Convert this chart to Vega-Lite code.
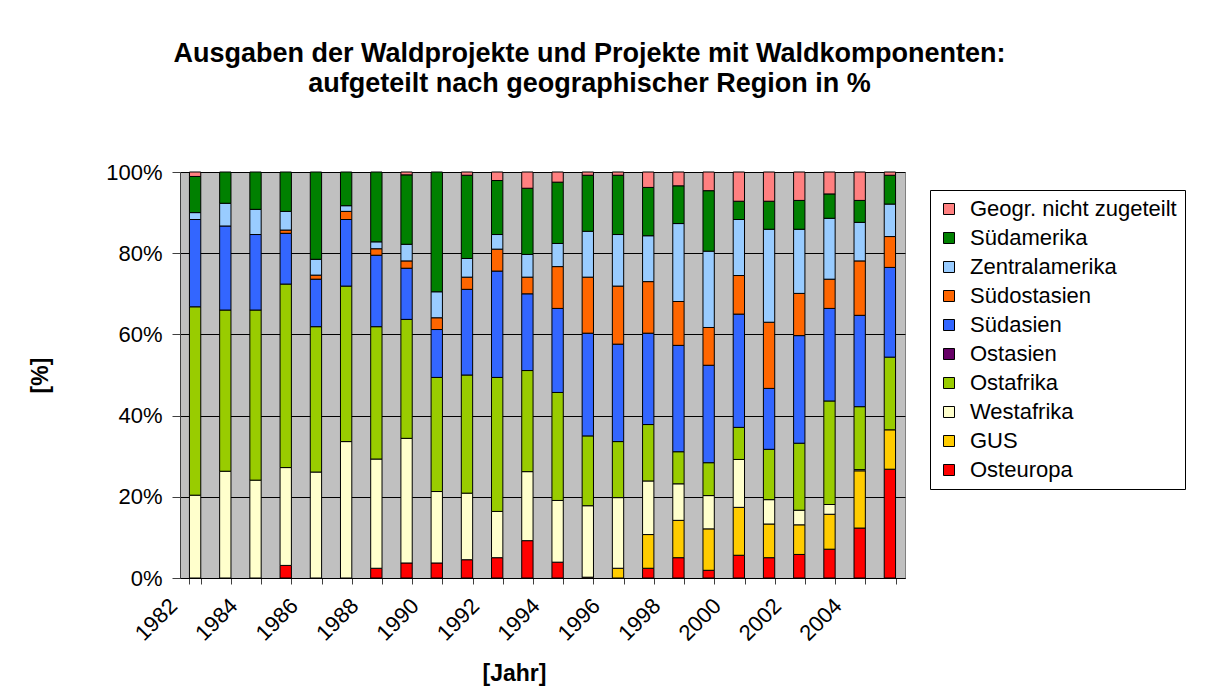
{
  "$schema": "https://vega.github.io/schema/vega-lite/v6.json",
  "width": 725,
  "height": 406,
  "autosize": {"type": "none"},
  "padding": {"left": 180, "top": 172, "right": 313, "bottom": 115},
  "background": "white",
  "title": {
    "text": ["Ausgaben der Waldprojekte und Projekte mit Waldkomponenten:", "aufgeteilt nach geographischer Region in %"],
    "font": "Liberation Sans", "fontSize": 27, "fontWeight": "bold", "color": "black",
    "anchor": "middle", "frame": "group", "dx": 47, "offset": 74, "dy": 38, "lineHeight": 30, "baseline": "bottom"
  },
  "config": {
    "view": {"fill": "#C0C0C0", "stroke": "#808080", "strokeWidth": 1},
    "font": "Liberation Sans"
  },
  "data": {"values": [
    {"year": 1982, "region": "Westafrika", "pct": 20.4},
    {"year": 1982, "region": "Ostafrika", "pct": 46.4},
    {"year": 1982, "region": "Südasien", "pct": 21.5},
    {"year": 1982, "region": "Zentralamerika", "pct": 1.7},
    {"year": 1982, "region": "Südamerika", "pct": 8.9},
    {"year": 1982, "region": "Geogr. nicht zugeteilt", "pct": 1.1},

    {"year": 1983, "region": "Westafrika", "pct": 26.3},
    {"year": 1983, "region": "Ostafrika", "pct": 39.7},
    {"year": 1983, "region": "Südasien", "pct": 20.7},
    {"year": 1983, "region": "Zentralamerika", "pct": 5.6},
    {"year": 1983, "region": "Südamerika", "pct": 7.7},

    {"year": 1984, "region": "Westafrika", "pct": 24.1},
    {"year": 1984, "region": "Ostafrika", "pct": 41.9},
    {"year": 1984, "region": "Südasien", "pct": 18.6},
    {"year": 1984, "region": "Zentralamerika", "pct": 6.2},
    {"year": 1984, "region": "Südamerika", "pct": 9.2},

    {"year": 1985, "region": "Osteuropa", "pct": 3.1},
    {"year": 1985, "region": "Westafrika", "pct": 24.1},
    {"year": 1985, "region": "Ostafrika", "pct": 45.2},
    {"year": 1985, "region": "Südasien", "pct": 12.5},
    {"year": 1985, "region": "Südostasien", "pct": 0.8},
    {"year": 1985, "region": "Zentralamerika", "pct": 4.6},
    {"year": 1985, "region": "Südamerika", "pct": 9.7},

    {"year": 1986, "region": "Westafrika", "pct": 26.1},
    {"year": 1986, "region": "Ostafrika", "pct": 35.8},
    {"year": 1986, "region": "Südasien", "pct": 11.7},
    {"year": 1986, "region": "Südostasien", "pct": 1.0},
    {"year": 1986, "region": "Zentralamerika", "pct": 3.9},
    {"year": 1986, "region": "Südamerika", "pct": 21.5},

    {"year": 1987, "region": "Westafrika", "pct": 33.6},
    {"year": 1987, "region": "Ostafrika", "pct": 38.3},
    {"year": 1987, "region": "Südasien", "pct": 16.4},
    {"year": 1987, "region": "Südostasien", "pct": 2.0},
    {"year": 1987, "region": "Zentralamerika", "pct": 1.4},
    {"year": 1987, "region": "Südamerika", "pct": 8.3},

    {"year": 1988, "region": "Osteuropa", "pct": 2.4},
    {"year": 1988, "region": "Westafrika", "pct": 26.9},
    {"year": 1988, "region": "Ostafrika", "pct": 32.6},
    {"year": 1988, "region": "Südasien", "pct": 17.6},
    {"year": 1988, "region": "Südostasien", "pct": 1.6},
    {"year": 1988, "region": "Zentralamerika", "pct": 1.7},
    {"year": 1988, "region": "Südamerika", "pct": 17.2},

    {"year": 1989, "region": "Osteuropa", "pct": 3.7},
    {"year": 1989, "region": "Westafrika", "pct": 30.7},
    {"year": 1989, "region": "Ostafrika", "pct": 29.3},
    {"year": 1989, "region": "Südasien", "pct": 12.6},
    {"year": 1989, "region": "Südostasien", "pct": 1.8},
    {"year": 1989, "region": "Zentralamerika", "pct": 4.1},
    {"year": 1989, "region": "Südamerika", "pct": 17.1},
    {"year": 1989, "region": "Geogr. nicht zugeteilt", "pct": 0.7},

    {"year": 1990, "region": "Osteuropa", "pct": 3.7},
    {"year": 1990, "region": "Westafrika", "pct": 17.6},
    {"year": 1990, "region": "Ostafrika", "pct": 28.1},
    {"year": 1990, "region": "Südasien", "pct": 11.8},
    {"year": 1990, "region": "Südostasien", "pct": 2.9},
    {"year": 1990, "region": "Zentralamerika", "pct": 6.4},
    {"year": 1990, "region": "Südamerika", "pct": 29.5},

    {"year": 1991, "region": "Osteuropa", "pct": 4.5},
    {"year": 1991, "region": "Westafrika", "pct": 16.4},
    {"year": 1991, "region": "Ostafrika", "pct": 29.1},
    {"year": 1991, "region": "Südasien", "pct": 21.1},
    {"year": 1991, "region": "Südostasien", "pct": 3.0},
    {"year": 1991, "region": "Zentralamerika", "pct": 4.6},
    {"year": 1991, "region": "Südamerika", "pct": 20.5},
    {"year": 1991, "region": "Geogr. nicht zugeteilt", "pct": 0.8},

    {"year": 1992, "region": "Osteuropa", "pct": 5.0},
    {"year": 1992, "region": "Westafrika", "pct": 11.4},
    {"year": 1992, "region": "Ostafrika", "pct": 33.0},
    {"year": 1992, "region": "Südasien", "pct": 26.2},
    {"year": 1992, "region": "Südostasien", "pct": 5.4},
    {"year": 1992, "region": "Zentralamerika", "pct": 3.6},
    {"year": 1992, "region": "Südamerika", "pct": 13.3},
    {"year": 1992, "region": "Geogr. nicht zugeteilt", "pct": 2.1},

    {"year": 1993, "region": "Osteuropa", "pct": 9.2},
    {"year": 1993, "region": "Westafrika", "pct": 17.0},
    {"year": 1993, "region": "Ostafrika", "pct": 24.9},
    {"year": 1993, "region": "Südasien", "pct": 18.9},
    {"year": 1993, "region": "Südostasien", "pct": 4.1},
    {"year": 1993, "region": "Zentralamerika", "pct": 5.6},
    {"year": 1993, "region": "Südamerika", "pct": 16.3},
    {"year": 1993, "region": "Geogr. nicht zugeteilt", "pct": 4.0},

    {"year": 1994, "region": "Osteuropa", "pct": 3.9},
    {"year": 1994, "region": "Westafrika", "pct": 15.2},
    {"year": 1994, "region": "Ostafrika", "pct": 26.6},
    {"year": 1994, "region": "Südasien", "pct": 20.7},
    {"year": 1994, "region": "Südostasien", "pct": 10.3},
    {"year": 1994, "region": "Zentralamerika", "pct": 5.7},
    {"year": 1994, "region": "Südamerika", "pct": 15.1},
    {"year": 1994, "region": "Geogr. nicht zugeteilt", "pct": 2.5},

    {"year": 1995, "region": "Osteuropa", "pct": 0.2},
    {"year": 1995, "region": "Westafrika", "pct": 17.6},
    {"year": 1995, "region": "Ostafrika", "pct": 17.2},
    {"year": 1995, "region": "Südasien", "pct": 25.3},
    {"year": 1995, "region": "Südostasien", "pct": 13.8},
    {"year": 1995, "region": "Zentralamerika", "pct": 11.3},
    {"year": 1995, "region": "Südamerika", "pct": 13.8},
    {"year": 1995, "region": "Geogr. nicht zugeteilt", "pct": 0.8},

    {"year": 1996, "region": "GUS", "pct": 2.4},
    {"year": 1996, "region": "Westafrika", "pct": 17.4},
    {"year": 1996, "region": "Ostafrika", "pct": 13.8},
    {"year": 1996, "region": "Südasien", "pct": 24.0},
    {"year": 1996, "region": "Südostasien", "pct": 14.3},
    {"year": 1996, "region": "Zentralamerika", "pct": 12.7},
    {"year": 1996, "region": "Südamerika", "pct": 14.6},
    {"year": 1996, "region": "Geogr. nicht zugeteilt", "pct": 0.8},

    {"year": 1997, "region": "Osteuropa", "pct": 2.4},
    {"year": 1997, "region": "GUS", "pct": 8.3},
    {"year": 1997, "region": "Westafrika", "pct": 13.2},
    {"year": 1997, "region": "Ostafrika", "pct": 13.9},
    {"year": 1997, "region": "Südasien", "pct": 22.5},
    {"year": 1997, "region": "Südostasien", "pct": 12.7},
    {"year": 1997, "region": "Zentralamerika", "pct": 11.3},
    {"year": 1997, "region": "Südamerika", "pct": 11.9},
    {"year": 1997, "region": "Geogr. nicht zugeteilt", "pct": 3.8},

    {"year": 1998, "region": "Osteuropa", "pct": 5.0},
    {"year": 1998, "region": "GUS", "pct": 9.2},
    {"year": 1998, "region": "Westafrika", "pct": 9.0},
    {"year": 1998, "region": "Ostafrika", "pct": 7.9},
    {"year": 1998, "region": "Südasien", "pct": 26.2},
    {"year": 1998, "region": "Südostasien", "pct": 10.8},
    {"year": 1998, "region": "Zentralamerika", "pct": 19.2},
    {"year": 1998, "region": "Südamerika", "pct": 9.3},
    {"year": 1998, "region": "Geogr. nicht zugeteilt", "pct": 3.4},

    {"year": 1999, "region": "Osteuropa", "pct": 1.9},
    {"year": 1999, "region": "GUS", "pct": 10.2},
    {"year": 1999, "region": "Westafrika", "pct": 8.2},
    {"year": 1999, "region": "Ostafrika", "pct": 8.1},
    {"year": 1999, "region": "Südasien", "pct": 24.0},
    {"year": 1999, "region": "Südostasien", "pct": 9.3},
    {"year": 1999, "region": "Zentralamerika", "pct": 18.8},
    {"year": 1999, "region": "Südamerika", "pct": 14.9},
    {"year": 1999, "region": "Geogr. nicht zugeteilt", "pct": 4.6},

    {"year": 2000, "region": "Osteuropa", "pct": 5.6},
    {"year": 2000, "region": "GUS", "pct": 11.8},
    {"year": 2000, "region": "Westafrika", "pct": 11.8},
    {"year": 2000, "region": "Ostafrika", "pct": 7.9},
    {"year": 2000, "region": "Südasien", "pct": 27.9},
    {"year": 2000, "region": "Südostasien", "pct": 9.5},
    {"year": 2000, "region": "Zentralamerika", "pct": 13.8},
    {"year": 2000, "region": "Südamerika", "pct": 4.5},
    {"year": 2000, "region": "Geogr. nicht zugeteilt", "pct": 7.2},

    {"year": 2001, "region": "Osteuropa", "pct": 5.0},
    {"year": 2001, "region": "GUS", "pct": 8.3},
    {"year": 2001, "region": "Westafrika", "pct": 6.0},
    {"year": 2001, "region": "Ostafrika", "pct": 12.4},
    {"year": 2001, "region": "Südasien", "pct": 15.0},
    {"year": 2001, "region": "Südostasien", "pct": 16.3},
    {"year": 2001, "region": "Zentralamerika", "pct": 22.9},
    {"year": 2001, "region": "Südamerika", "pct": 6.9},
    {"year": 2001, "region": "Geogr. nicht zugeteilt", "pct": 7.2},

    {"year": 2002, "region": "Osteuropa", "pct": 5.8},
    {"year": 2002, "region": "GUS", "pct": 7.3},
    {"year": 2002, "region": "Westafrika", "pct": 3.6},
    {"year": 2002, "region": "Ostafrika", "pct": 16.5},
    {"year": 2002, "region": "Südasien", "pct": 26.5},
    {"year": 2002, "region": "Südostasien", "pct": 10.4},
    {"year": 2002, "region": "Zentralamerika", "pct": 15.8},
    {"year": 2002, "region": "Südamerika", "pct": 7.1},
    {"year": 2002, "region": "Geogr. nicht zugeteilt", "pct": 7.0},

    {"year": 2003, "region": "Osteuropa", "pct": 7.1},
    {"year": 2003, "region": "GUS", "pct": 8.6},
    {"year": 2003, "region": "Westafrika", "pct": 2.4},
    {"year": 2003, "region": "Ostafrika", "pct": 25.5},
    {"year": 2003, "region": "Südasien", "pct": 22.8},
    {"year": 2003, "region": "Südostasien", "pct": 7.2},
    {"year": 2003, "region": "Zentralamerika", "pct": 15.0},
    {"year": 2003, "region": "Südamerika", "pct": 6.0},
    {"year": 2003, "region": "Geogr. nicht zugeteilt", "pct": 5.4},

    {"year": 2004, "region": "Osteuropa", "pct": 12.3},
    {"year": 2004, "region": "GUS", "pct": 14.1},
    {"year": 2004, "region": "Westafrika", "pct": 0.3},
    {"year": 2004, "region": "Ostafrika", "pct": 15.5},
    {"year": 2004, "region": "Südasien", "pct": 22.5},
    {"year": 2004, "region": "Südostasien", "pct": 13.4},
    {"year": 2004, "region": "Zentralamerika", "pct": 9.5},
    {"year": 2004, "region": "Südamerika", "pct": 5.4},
    {"year": 2004, "region": "Geogr. nicht zugeteilt", "pct": 7.0},

    {"year": 2005, "region": "Osteuropa", "pct": 26.8},
    {"year": 2005, "region": "GUS", "pct": 9.7},
    {"year": 2005, "region": "Ostafrika", "pct": 17.9},
    {"year": 2005, "region": "Südasien", "pct": 22.1},
    {"year": 2005, "region": "Südostasien", "pct": 7.6},
    {"year": 2005, "region": "Zentralamerika", "pct": 8.0},
    {"year": 2005, "region": "Südamerika", "pct": 7.1},
    {"year": 2005, "region": "Geogr. nicht zugeteilt", "pct": 0.8}
  ]},
  "transform": [
    {"calculate": "indexof(['Osteuropa', 'GUS', 'Westafrika', 'Ostafrika', 'Ostasien', 'Südasien', 'Südostasien', 'Zentralamerika', 'Südamerika', 'Geogr. nicht zugeteilt'], datum.region)", "as": "stackOrder"}
  ],
  "mark": {"type": "bar", "stroke": "black", "strokeWidth": 1},
  "encoding": {
    "x": {
      "field": "year", "type": "ordinal",
      "scale": {"paddingInner": 0.625, "paddingOuter": 0.3125},
      "axis": {
        "title": "[Jahr]", "titleFont": "Liberation Sans", "titleFontSize": 23, "titleFontWeight": "bold", "titleColor": "black",
        "titleX": 334, "titleY": 95, "titleBaseline": "middle", "titleAlign": "center",
        "labelAngle": -45, "labelAlign": "right", "labelBaseline": "middle",
        "labelFontSize": 22, "labelColor": "black", "labelOverlap": false,
        "labelExpr": "datum.value % 2 == 0 ? datum.label : ''",
        "labelPadding": 18, "labelOffset": -22,
        "tickBand": "extent", "tickSize": 6, "tickColor": "#404040", "domainColor": "black", "grid": false
      }
    },
    "y": {
      "field": "pct", "type": "quantitative", "stack": "normalize",
      "scale": {"domain": [0, 1], "nice": false},
      "axis": {
        "title": "[%]", "titleFont": "Liberation Sans", "titleFontSize": 23, "titleFontWeight": "bold", "titleColor": "black",
        "titleX": -140, "titleY": 203, "titleAngle": -90, "titleAlign": "center", "titleBaseline": "middle",
        "format": ".0%", "values": [0, 0.2, 0.4, 0.6, 0.8, 1],
        "grid": true, "gridColor": "black", "gridOpacity": 1, "gridWidth": 1,
        "labelFontSize": 22, "labelColor": "black", "labelPadding": 10,
        "tickSize": 8, "tickColor": "#404040", "domainColor": "#404040"
      }
    },
    "order": {"field": "stackOrder", "type": "quantitative", "sort": "ascending"},
    "color": {
      "field": "region", "type": "nominal",
      "scale": {
        "domain": ["Geogr. nicht zugeteilt", "Südamerika", "Zentralamerika", "Südostasien", "Südasien", "Ostasien", "Ostafrika", "Westafrika", "GUS", "Osteuropa"],
        "range": ["#FF8080", "#008000", "#99CCFF", "#FF6600", "#3366FF", "#660066", "#99CC00", "#FFFFCC", "#FFCC00", "#FF0000"]
      },
      "legend": {
        "title": null, "orient": "none", "legendX": 750, "legendY": 18,
        "strokeColor": "black", "fillColor": "white", "padding": 8,
        "symbolType": "square", "symbolSize": 121, "symbolStrokeColor": "black", "symbolStrokeWidth": 1, "symbolOpacity": 1,
        "labelFont": "Liberation Sans", "labelFontSize": 22, "labelColor": "black", "labelOffset": 10, "labelLimit": 400,
        "rowPadding": 7
      }
    }
  }
}
